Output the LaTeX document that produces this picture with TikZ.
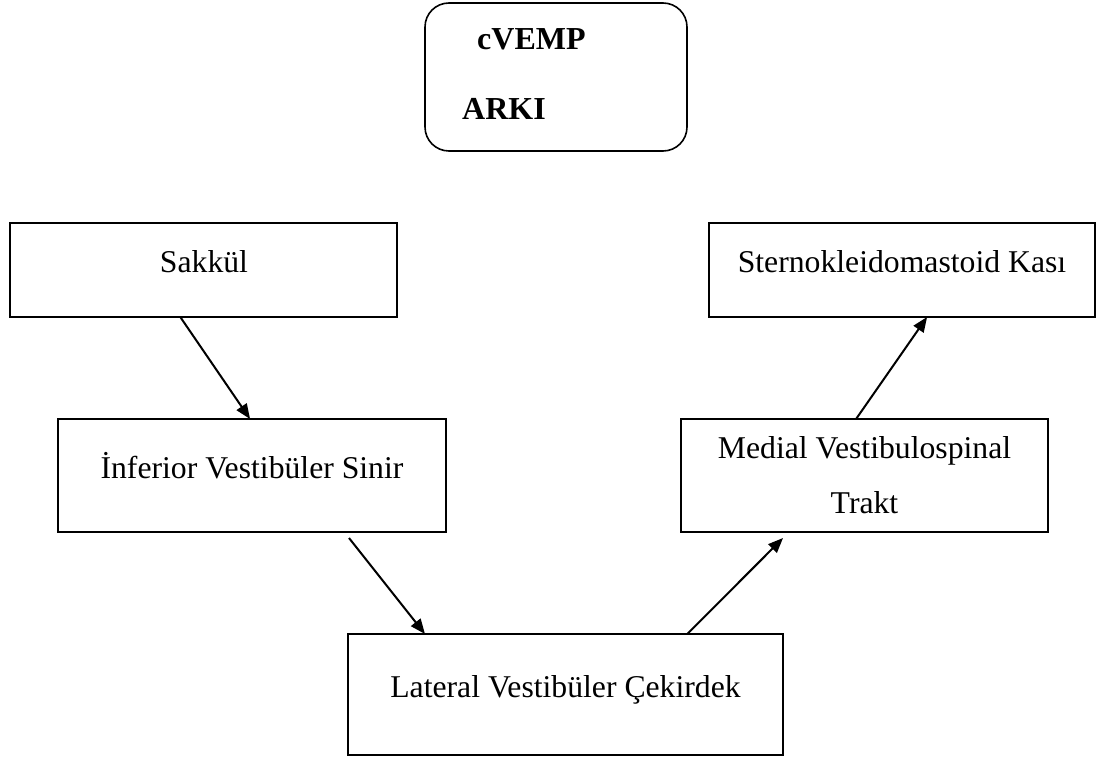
\documentclass[tikz,border=0pt]{standalone}
\usepackage{fontspec}
\setmainfont{Liberation Serif}
\usetikzlibrary{arrows.meta,calc}
\begin{document}
\begin{tikzpicture}[x=1pt,y=-1pt,
  box/.style={draw,line width=2pt,rectangle,inner sep=0pt,outer sep=0pt,anchor=north west},
  txt/.style={font=\fontsize{31.7}{38}\selectfont,inner sep=0pt,anchor=base},
  btxt/.style={font=\fontsize{32}{38}\selectfont\bfseries,inner sep=0pt,anchor=base west},
  arr/.style={line width=2pt,-{Triangle[length=15pt,width=12pt]}}]
\useasboundingbox (0,0) rectangle (1098,759);
% title box
\node[box,line width=1.6pt,rounded corners=24pt,minimum width=262pt,minimum height=148pt] (title) at (425,3) {};
\node[btxt] (t1) at (477,50) {cVEMP};
\node[btxt] (t2) at (462,120) {ARKI};
% boxes
\node[box,minimum width=387pt,minimum height=94pt] (sak) at (10,223) {};
\node[txt] (sakt) at (204,273) {Sakkül};
\node[box,minimum width=386pt,minimum height=94pt] (ste) at (709,223) {};
\node[txt] (stet) at (902,273) {Sternokleidomastoid Kası};
\node[box,minimum width=388pt,minimum height=113pt] (inf) at (58,419) {};
\node[txt] (inft) at (252,478) {İnferior Vestibüler Sinir};
\node[box,minimum width=367pt,minimum height=113pt] (med) at (681,419) {};
\node[txt] (medt1) at (864.5,458) {Medial Vestibulospinal};
\node[txt] (medt2) at (864.5,513) {Trakt};
\node[box,minimum width=435pt,minimum height=121pt] (lat) at (348,634) {};
\node[txt] (latt) at (565.5,697) {Lateral Vestibüler Çekirdek};
% arrows
\draw[arr] ($(sak.south west)!0.44!(sak.south east)$) -- ($(inf.north west)!0.495!(inf.north east)$);
\draw[arr] ($(inf.south west)!0.75!(inf.south east)+(0,6)$) -- ($(lat.north west)!0.177!(lat.north east)$);
\draw[arr] ($(lat.north west)!0.78!(lat.north east)$) -- ($(med.south west)!0.278!(med.south east)+(0,6)$);
\draw[arr] ($(med.north west)!0.477!(med.north east)$) -- ($(ste.south west)!0.565!(ste.south east)$);
\end{tikzpicture}
\end{document}
